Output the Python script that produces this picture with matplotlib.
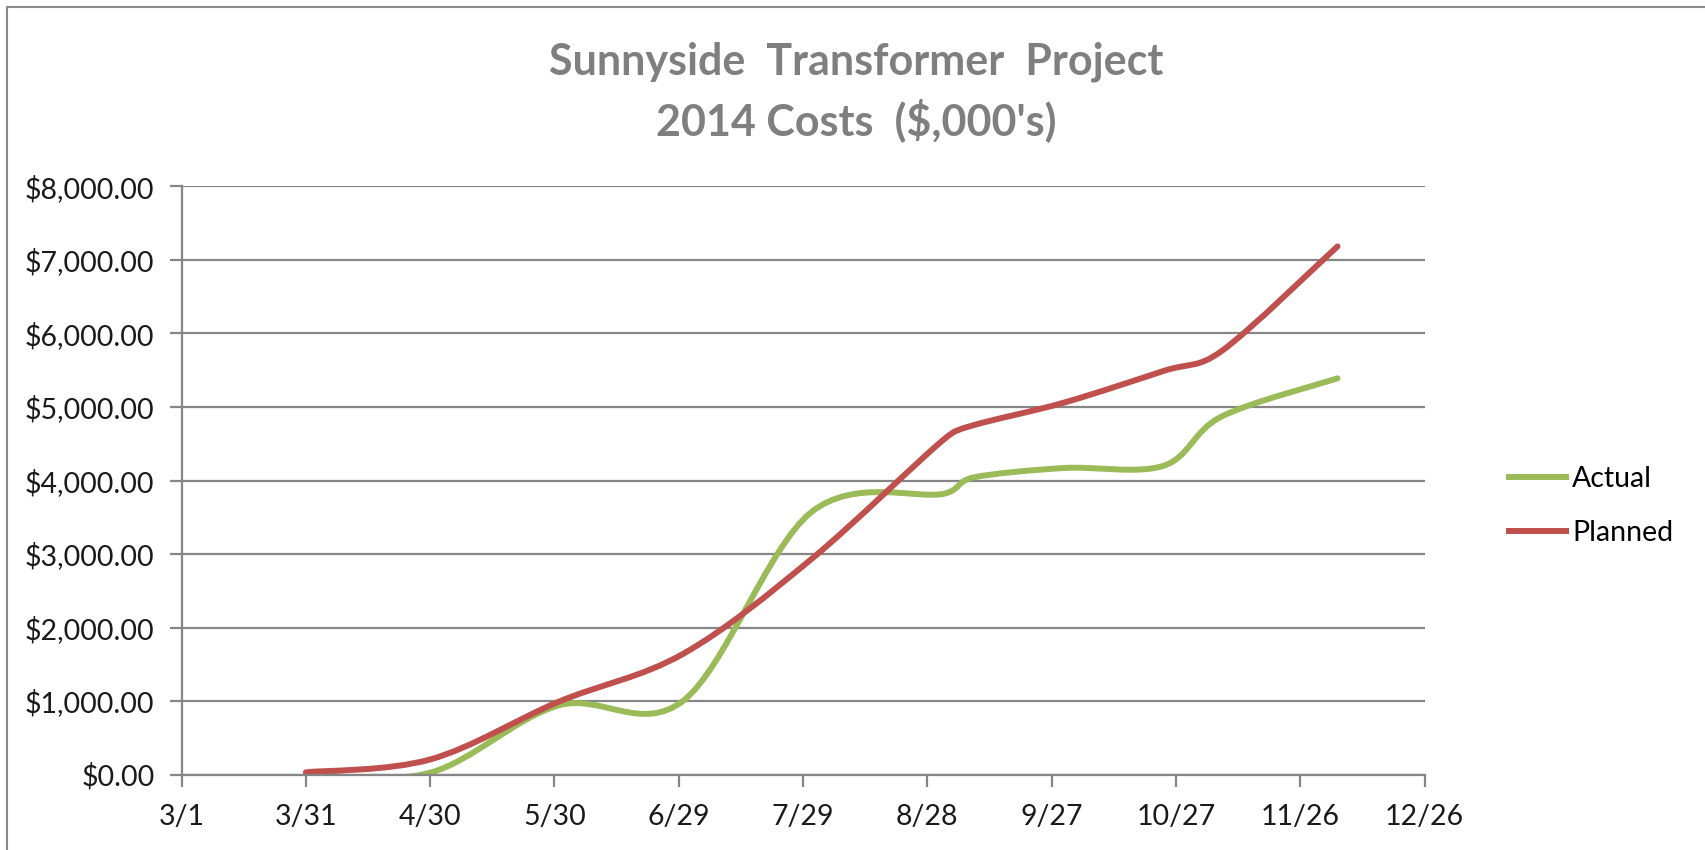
import numpy as np
import matplotlib
matplotlib.use("Agg")
from matplotlib import pyplot as plt
import matplotlib.dates as mdates
from matplotlib.path import Path
from matplotlib.patches import PathPatch, Rectangle
from matplotlib.lines import Line2D
from matplotlib.ticker import FuncFormatter
import datetime as dt

# data (dates shared by both series)
dates = ['2014-03-31', '2014-04-30', '2014-05-31', '2014-06-30', '2014-07-31',
         '2014-09-01', '2014-09-08', '2014-09-30', '2014-10-24', '2014-11-07',
         '2014-12-05']
actual = [0, 25, 940, 1000, 3570, 3820, 4040, 4170, 4200, 4870, 5390]
planned = [30, 205, 990, 1640, 2930, 4560, 4750, 5060, 5490, 5760, 7185]
series_names = ['Actual', 'Planned']
series_colors = ['#9BBB59', '#C0504D']

title = "Sunnyside  Transformer  Project\n2014 Costs  ($,000's)"

plt.rcParams['font.family'] = ['Lato', 'DejaVu Sans']

x = mdates.date2num([dt.datetime.strptime(d, '%Y-%m-%d') for d in dates])


def smooth_path(ax, xs, ys):
    # Excel style smoothed line: bezier through the points, worked out on screen
    pts = ax.transData.transform(np.column_stack([xs, ys]).astype(float))
    n = len(pts)
    verts = [pts[0]]
    codes = [Path.MOVETO]
    for i in range(n - 1):
        p0 = pts[i - 1] if i > 0 else pts[i]
        p1 = pts[i]
        p2 = pts[i + 1]
        p3 = pts[i + 2] if i + 2 < n else pts[i + 1]
        d12 = np.hypot(*(p2 - p1))
        d02 = np.hypot(*(p2 - p0))
        d13 = np.hypot(*(p3 - p1))
        f0 = 1 / 6 if d02 / 6 <= d12 / 2 else d12 / 2 / d02
        f3 = 1 / 6 if d13 / 6 <= d12 / 2 else d12 / 2 / d13
        verts += [p1 + f0 * (p2 - p0), p2 - f3 * (p3 - p1), p2]
        codes += [Path.CURVE4] * 3
    verts = ax.transData.inverted().transform(np.array(verts))
    return Path(verts, codes)


fig = plt.figure(figsize=(17.05, 8.5), dpi=100)
ax = fig.add_axes([0.1065, 0.0888, 0.7290, 0.6918])

grid_c = '#868686'
lw = 4.3

start = mdates.date2num(dt.datetime(2014, 3, 1))
ticks = [start + 30 * k for k in range(11)]
ax.set_xlim(ticks[0], ticks[-1])
ax.set_ylim(0, 8000)
ax.set_xticks(ticks)
ax.set_yticks(range(0, 8001, 1000))
ax.xaxis.set_major_formatter(FuncFormatter(
    lambda v, p: '%d/%d' % (mdates.num2date(v).month, mdates.num2date(v).day)))
ax.yaxis.set_major_formatter(FuncFormatter(lambda v, p: '${:,.2f}'.format(v)))

for vals, c in zip([actual, planned], series_colors):
    ax.add_patch(PathPatch(smooth_path(ax, x, vals), facecolor='none', edgecolor=c,
                           lw=lw, capstyle='round', joinstyle='round'))

ax.grid(axis='y', color=grid_c, lw=1.6)
ax.set_axisbelow(True)
for s in ['top', 'right']:
    ax.spines[s].set_visible(False)
for s in ['left', 'bottom']:
    ax.spines[s].set_color(grid_c)
    ax.spines[s].set_linewidth(1.6)
ax.tick_params(axis='both', direction='out', length=8.5, width=1.6, color=grid_c,
               labelsize=20.5, labelcolor='#1a1a1a')
ax.tick_params(axis='x', pad=13)
ax.tick_params(axis='y', pad=11)

fig.text(0.502, 0.892, title, ha='center', va='center', fontsize=31,
         fontweight='bold', color='#7f7f7f', linespacing=1.45)

handles = [Line2D([], [], color=c, lw=lw) for c in series_colors]
fig.legend(handles, series_names, loc='center left', bbox_to_anchor=(0.885, 0.405),
           frameon=False, fontsize=20.5, handlelength=2.0, handletextpad=0.22,
           labelspacing=1.0, borderpad=0, borderaxespad=0)

# chart area border
fig.add_artist(Rectangle((7 / 1705, -0.5), 2, 0.5 + 1 - 7 / 850, transform=fig.transFigure,
                         fill=False, edgecolor='#8a8a8a', lw=1.5, clip_on=False))

plt.savefig('out.png', dpi=100, facecolor='white')
